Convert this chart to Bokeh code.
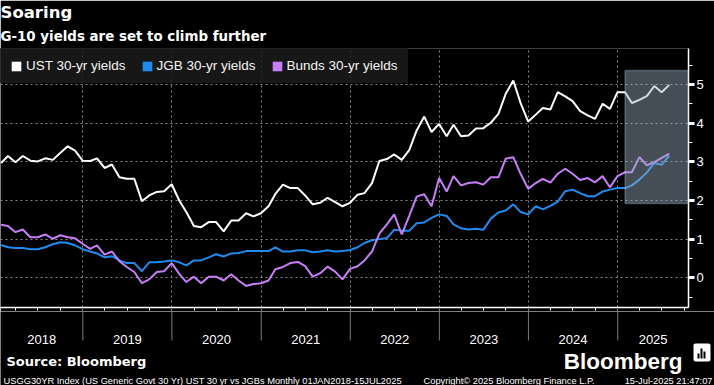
import pandas as pd
from bokeh.plotting import figure
from bokeh.layouts import column
from bokeh.core.properties import value
from bokeh.models import (Range1d, FixedTicker, CustomJSTickFormatter, BoxAnnotation,
                          Legend, LegendItem, Title, ColumnDataSource)
from bokeh.embed import file_html
from bokeh.resources import INLINE

# ---------------- data (month-end observations, Jan-2018 .. Jul-2025) ----------------
months = pd.date_range("2018-01-01", periods=91, freq="MS") + pd.offsets.MonthEnd(0)

ust = [2.97, 3.15, 2.99, 3.15, 3.03, 3.01, 3.09, 3.05, 3.23, 3.40, 3.29, 3.03,
       3.02, 3.09, 2.84, 2.93, 2.60, 2.56, 2.56, 1.98, 2.13, 2.22, 2.24, 2.42,
       2.00, 1.70, 1.34, 1.31, 1.44, 1.44, 1.20, 1.48, 1.48, 1.67, 1.59, 1.67,
       1.85, 2.17, 2.41, 2.32, 2.32, 2.13, 1.90, 1.94, 2.07, 1.96, 1.85, 1.94,
       2.15, 2.19, 2.45, 3.02, 3.07, 3.19, 3.05, 3.31, 3.81, 4.17, 3.77, 3.98,
       3.66, 3.96, 3.66, 3.68, 3.86, 3.87, 4.01, 4.24, 4.76, 5.10, 4.52, 4.04,
       4.22, 4.39, 4.35, 4.80, 4.69, 4.57, 4.31, 4.20, 4.11, 4.50, 4.37, 4.80,
       4.80, 4.52, 4.60, 4.70, 4.96, 4.80, 4.99]

jgb = [0.85, 0.79, 0.77, 0.77, 0.74, 0.74, 0.79, 0.87, 0.92, 0.90, 0.84, 0.74,
       0.68, 0.63, 0.53, 0.56, 0.45, 0.38, 0.38, 0.17, 0.40, 0.40, 0.42, 0.45,
       0.40, 0.32, 0.45, 0.45, 0.53, 0.61, 0.55, 0.63, 0.64, 0.69, 0.69, 0.69,
       0.69, 0.79, 0.68, 0.68, 0.71, 0.71, 0.66, 0.68, 0.71, 0.68, 0.69, 0.72,
       0.79, 0.90, 0.97, 1.00, 1.03, 1.24, 1.22, 1.22, 1.41, 1.43, 1.55, 1.64,
       1.60, 1.38, 1.28, 1.25, 1.27, 1.24, 1.53, 1.69, 1.74, 1.90, 1.70, 1.64,
       1.85, 1.77, 1.86, 1.97, 2.24, 2.28, 2.19, 2.11, 2.11, 2.23, 2.28, 2.32,
       2.32, 2.39, 2.54, 2.72, 2.97, 2.92, 3.16]

bund = [1.37, 1.34, 1.18, 1.25, 1.05, 1.05, 1.12, 1.01, 1.10, 1.05, 1.02, 0.88,
        0.75, 0.84, 0.60, 0.68, 0.43, 0.28, 0.15, -0.14, -0.04, 0.15, 0.17, 0.38,
        0.10, -0.11, 0.03, -0.14, 0.03, 0.03, -0.07, 0.09, -0.07, -0.21, -0.16, -0.14,
        -0.07, 0.22, 0.28, 0.38, 0.41, 0.30, 0.03, 0.12, 0.29, 0.16, -0.04, 0.23,
        0.30, 0.45, 0.68, 1.14, 1.38, 1.64, 1.12, 1.61, 2.10, 2.16, 1.85, 2.58,
        2.23, 2.63, 2.39, 2.45, 2.47, 2.41, 2.60, 2.60, 3.08, 3.12, 2.69, 2.30,
        2.45, 2.56, 2.46, 2.69, 2.82, 2.69, 2.53, 2.58, 2.47, 2.63, 2.34, 2.63,
        2.73, 2.73, 3.12, 2.91, 2.99, 3.10, 3.21]

series_names = ["UST 30-yr yields", "JGB 30-yr yields", "Bunds 30-yr yields"]
series_colors = ["#ffffff", "#1f8bee", "#c77ef6"]
years = list(range(2018, 2026))
year_labels = [str(y) for y in years]
y_ticks = [0, 1, 2, 3, 4, 5]
y_minor = [-0.5, 0.5, 1.5, 2.5, 3.5, 4.5, 5.5]
highlight_start = pd.Timestamp("2025-01-31")
highlight_low, highlight_high = 1.92, 5.36

title_text = "Soaring"
subtitle_text = "G-10 yields are set to climb further"
source_text = "Source: Bloomberg"
brand_text = "Bloomberg"
footer_left = "USGG30YR Index (US Generic Govt 30 Yr) UST 30 yr vs JGBs  Monthly 01JAN2018-15JUL2025"
footer_mid = "Copyright\u00a9 2025 Bloomberg Finance L.P."
footer_right = "15-Jul-2025 21:47:07"

# ---------------- geometry ----------------
W = 714
FW = 688                     # frame width
TOP, FH, BOT = 48, 259, 4    # main figure: top border, frame height, bottom border
H1 = TOP + FH + BOT          # 311
H2 = 385 - H1                # footer strip height
xs = pd.Timestamp("2018-01-28 12:00")
xe = pd.Timestamp("2025-10-18")
y0, y1 = -0.768, 5.93


def ms(t):
    return pd.Timestamp(t).value / 1e6


xs_ms, xe_ms = ms(xs), ms(xe)
mspp = (xe_ms - xs_ms) / FW


def XF(px):   # footer-strip pixel x -> data x (same scale as main chart)
    return xs_ms + px * mspp


FONT = "Liberation Sans"
BOLD = "DejaVu Sans"

# ---------------- main chart ----------------
p = figure(width=W, height=H1,
           x_axis_type="datetime", y_axis_location="right",
           x_range=Range1d(xs, xe), y_range=Range1d(y0, y1),
           output_backend="svg", toolbar_location=None,
           background_fill_color="black", border_fill_color="black",
           outline_line_color=None,
           min_border_left=0, min_border_right=W - FW,
           min_border_top=TOP, min_border_bottom=BOT,
           title=title_text)

p.title.text_font = BOLD
p.title.text_font_style = "bold"
p.title.text_font_size = "16.5px"
p.title.text_color = "white"
p.title.standoff = 0
p.add_layout(Title(text=subtitle_text, text_font=BOLD, text_font_style="bold",
                   text_font_size="13.4px", text_color="white", standoff=10), "above")

# grids
p.ygrid.ticker = FixedTicker(ticks=y_ticks)
p.xgrid.ticker = FixedTicker(ticks=[ms(f"{y}-01-01") for y in years[1:]])
for g in (p.xgrid, p.ygrid):
    g.grid_line_color = "#8a8a8a"
    g.grid_line_dash = "2 3"
    g.grid_line_width = 1

# series
src = ColumnDataSource(dict(date=months, ust=ust, jgb=jgb, bund=bund))
for col, c in zip(["ust", "jgb", "bund"], series_colors):
    p.line("date", col, source=src, line_color=c, line_width=2)

# legend swatches (zero-area quads, only used for the legend)
items = []
for name, c, vals in zip(series_names, series_colors, [ust, jgb, bund]):
    r = p.quad(left=[months[0]], right=[months[0]], top=[vals[0]], bottom=[vals[0]],
               fill_color=c, line_color=None)
    items.append(LegendItem(label=name, renderers=[r]))
leg = Legend(items=items, orientation="horizontal", location="top_left",
             margin=0, padding=10, spacing=15, label_standoff=4,
             glyph_width=12, glyph_height=12, label_height=11,
             label_text_font=FONT, label_text_font_size="13.5px",
             label_text_color="#f4f4f4",
             background_fill_color="#1c1c1c", background_fill_alpha=0.82,
             border_line_alpha=0)
p.add_layout(leg)

# highlight box
p.add_layout(BoxAnnotation(left=ms(highlight_start), right=xe_ms,
                           bottom=highlight_low, top=highlight_high,
                           fill_color="#9aaec2", fill_alpha=0.45,
                           line_color="#b8d4f0", line_width=1.5))

# right y axis
ya = p.yaxis[0]
ya.ticker = FixedTicker(ticks=y_ticks, minor_ticks=y_minor)
ya.axis_line_color = "white"
ya.axis_line_width = 1.5
ya.major_tick_line_color = "white"
ya.major_tick_line_width = 3
ya.major_tick_out = 6
ya.major_tick_in = 0
ya.minor_tick_line_color = "white"
ya.minor_tick_out = 4
ya.minor_tick_in = 0
ya.major_label_standoff = 2
ya.major_label_text_color = "white"
ya.major_label_text_font = FONT
ya.major_label_text_font_size = "13px"

# bottom x axis: year boundaries (grey) and quarter ticks (white)
year_starts = [ms(f"{y}-01-01") for y in years[1:]]
quarters = [ms(t) for t in pd.date_range("2018-04-01", "2025-10-01", freq="QS")
            if t.month != 1]
xa = p.xaxis[0]
xa.ticker = FixedTicker(ticks=year_starts, minor_ticks=quarters)
xa.formatter = CustomJSTickFormatter(code="return '';")
xa.axis_line_color = "white"
xa.axis_line_width = 1.5
xa.major_tick_line_color = "#7a7a7a"
xa.major_tick_out = BOT
xa.major_tick_in = 0
xa.minor_tick_line_color = "white"
xa.minor_tick_out = 3
xa.minor_tick_in = 0
xa.major_label_standoff = 0
xa.major_label_text_font_size = "0px"

# ---------------- footer strip (same x scale as the chart, full-width frame) ----------------
f = figure(frame_width=W, frame_height=H2,
           x_range=Range1d(xs_ms, XF(W)), y_range=Range1d(H2, 0),
           x_axis_location=None, y_axis_location=None,
           output_backend="svg", toolbar_location=None,
           background_fill_color="black", border_fill_color="black",
           outline_line_color=None, min_border=0,
           min_border_left=0, min_border_right=0, min_border_top=0, min_border_bottom=0)
for g in f.grid:
    g.visible = False

centers = []
for y in years:
    a = max(ms(f"{y}-01-01"), xs_ms)
    b = min(ms(f"{y + 1}-01-01"), xe_ms)
    centers.append((a + b) / 2)

f.segment(x0=year_starts, y0=[0] * len(year_starts), x1=year_starts,
          y1=[29] * len(year_starts), line_color="#7a7a7a", line_width=1)
f.text(x=centers, y=[27.5] * len(centers), text=year_labels,
       text_align="center", text_baseline="alphabetic",
       text_font=value(FONT), text_font_size="13px", text_color="white")

f.text(x=[XF(6)], y=[50], text=[source_text], text_align="left",
       text_baseline="alphabetic", text_font=value(BOLD), text_font_style="bold",
       text_font_size="13px", text_color="white")
f.text(x=[XF(682)], y=[49.5], text=[brand_text], text_align="right",
       text_baseline="alphabetic", text_font=value(FONT), text_font_style="bold",
       text_font_size="22.5px", text_color="white")
f.add_layout(BoxAnnotation(left=XF(693), right=XF(710), top=32, bottom=50,
                           fill_color="white", fill_alpha=1, line_alpha=0,
                           border_radius=2))
for (l, r, t) in [(697, 699, 42), (700, 702, 37), (703, 705, 40)]:
    f.add_layout(BoxAnnotation(left=XF(l), right=XF(r), top=t, bottom=47,
                               fill_color="black", fill_alpha=1, line_alpha=0))

foot = dict(text_baseline="alphabetic", text_font=value(FONT),
            text_font_size="9.3px", text_color="white")
f.text(x=[XF(3)], y=[69], text=[footer_left], text_align="left", **foot)
f.text(x=[XF(423)], y=[69], text=[footer_mid], text_align="left", **foot)
f.text(x=[XF(712)], y=[69], text=[footer_right], text_align="right", **foot)

layout = column(p, f, spacing=0)
open("out.html", "w").write(file_html(layout, INLINE))
